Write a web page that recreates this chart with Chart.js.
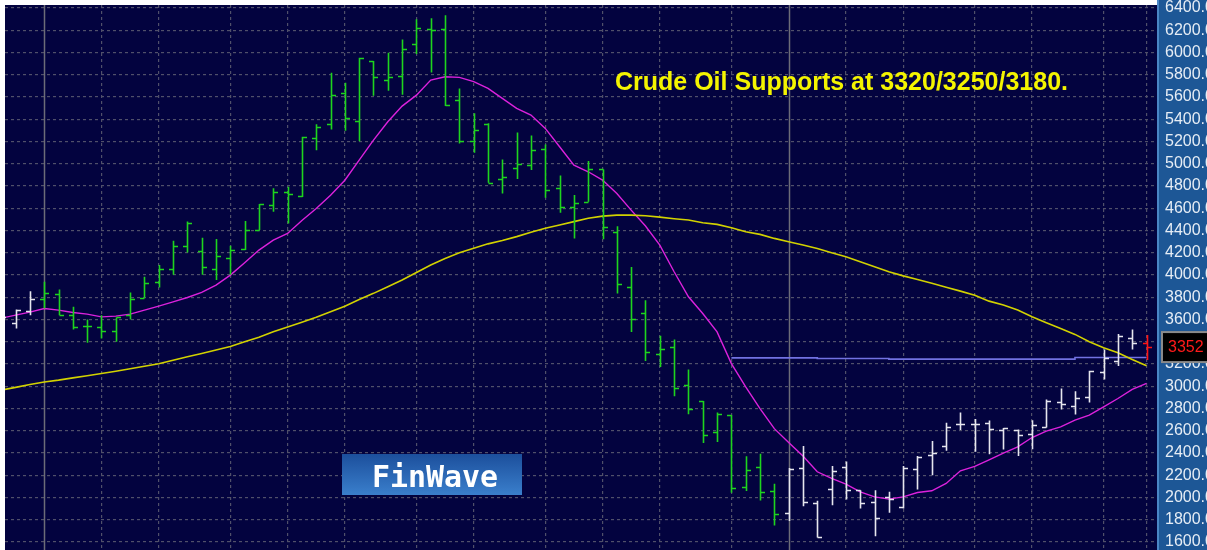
<!DOCTYPE html>
<html lang="en">
<head>
    <meta charset="UTF-8" />
    <title>Crude Oil Weekly</title>
    <script src="https://cdn.jsdelivr.net/npm/chart.js"></script>
    <style>
        html, body { margin: 0; padding: 0; background: #ffffff; }
        canvas { display: block; }
    </style>
</head>
<body>
    <canvas id="oilChart" width="1207" height="550"></canvas>

    <script>
        // weekly bars
        const opens = [
            3580, 3570, 3675, 3786, 3828, 3642, 3546, 3534, 3498, 3642,
            3795, 3936, 4050, 4263, 4215, 4053, 4155, 4233, 4404, 4629,
            4750, 4708, 5233, 5359, 5638, 5383, 5923, 5755, 5788, 6073,
            6211, 6211, 5572, 5205, 5354, 4862, 4961, 4985, 5135, 4778,
            4610, 4658, 4949, 4388, 3896, 3660, 3288, 3351, 3009, 2868,
            2589, 2739, 2094, 2274, 2058, 1863, 2262, 1952, 2078, 2276,
            2066, 1961, 2006, 1916, 2252, 2381, 2462, 2660, 2657, 2671,
            2611, 2611, 2575, 2635, 2860, 2821, 2905, 3130, 3229, 3430,
            3385
        ];
        const highs = [
            3700, 3690, 3855, 3939, 3870, 3714, 3600, 3639, 3618, 3843,
            3984, 4089, 4308, 4482, 4335, 4323, 4263, 4485, 4638, 4779,
            4793, 5242, 5356, 5818, 5728, 5953, 5923, 5998, 6118, 6298,
            6307, 6334, 5677, 5455, 5363, 5039, 5282, 5255, 5174, 4895,
            4718, 5024, 4949, 4439, 4073, 3774, 3453, 3420, 3150, 2868,
            2763, 2739, 2370, 2394, 2124, 2265, 2463, 1970, 2282, 2324,
            2066, 2066, 2051, 2282, 2372, 2507, 2672, 2765, 2705, 2693,
            2624, 2611, 2695, 2881, 2980, 2956, 3139, 3331, 3469, 3511,
            3460
        ];
        const lows = [
            3540, 3519, 3639, 3699, 3639, 3510, 3390, 3429, 3399, 3600,
            3795, 3888, 4002, 4203, 4002, 3954, 4002, 4224, 4404, 4569,
            4463, 4702, 5122, 5308, 5296, 5203, 5611, 5656, 5620, 5986,
            5821, 5518, 5182, 5098, 4829, 4733, 4862, 4943, 4694, 4559,
            4328, 4658, 4322, 3833, 3488, 3228, 3174, 2910, 2748, 2490,
            2499, 2043, 2058, 1974, 1749, 1788, 1921, 1640, 1931, 1982,
            1901, 1652, 1862, 1901, 2072, 2201, 2420, 2606, 2411, 2388,
            2431, 2374, 2434, 2629, 2791, 2746, 2854, 3061, 3181, 3331,
            3235
        ];
        const closes = [
            3624, 3684, 3786, 3840, 3639, 3534, 3546, 3498, 3618, 3783,
            3930, 4050, 4263, 4464, 4074, 4167, 4224, 4404, 4638, 4749,
            4727, 5242, 5332, 5614, 5407, 5947, 5779, 5779, 6034, 6223,
            6202, 5530, 5205, 5300, 4829, 4880, 4997, 5126, 4763, 4610,
            4649, 4949, 4427, 3920, 3608, 3312, 3336, 2985, 2796, 2565,
            2754, 2088, 2250, 2049, 1848, 2260, 1958, 1646, 2240, 2066,
            1952, 1820, 1985, 2261, 2366, 2396, 2636, 2660, 2657, 2615,
            2623, 2566, 2650, 2866, 2839, 2890, 3136, 3250, 3451, 3385,
            3352
        ];

        // moving averages (magenta = short, yellow = long)
        const maShort = [
            3612, 3639, 3666, 3699, 3684, 3663, 3648, 3624, 3630, 3648,
            3684, 3720, 3759, 3798, 3843, 3909, 3999, 4110, 4224, 4314,
            4373, 4490, 4597, 4717, 4852, 5032, 5212, 5377, 5518, 5617,
            5752, 5782, 5776, 5738, 5678, 5588, 5498, 5438, 5318, 5153,
            4988, 4928, 4853, 4733, 4583, 4440, 4269, 4029, 3804, 3654,
            3489, 3204, 2994, 2799, 2619, 2495, 2372, 2231, 2171, 2120,
            2051, 2006, 1985, 2006, 2045, 2060, 2126, 2240, 2280, 2339,
            2398, 2455, 2539, 2596, 2635, 2695, 2740, 2815, 2890, 2971,
            3025
        ];
        const maLong = [
            2965, 2990, 3015, 3038, 3055, 3075, 3095, 3114, 3135, 3158,
            3180, 3202, 3234, 3265, 3295, 3325, 3357, 3400, 3440, 3490,
            3533, 3575, 3620, 3670, 3720, 3780, 3835, 3895, 3955, 4023,
            4090, 4149, 4199, 4240, 4280, 4310, 4345, 4385, 4420, 4450,
            4480, 4510, 4529, 4538, 4538, 4532, 4520, 4506, 4494, 4470,
            4455, 4425, 4389, 4365, 4329, 4299, 4269, 4238, 4200, 4165,
            4120, 4075, 4030, 3992, 3960, 3925, 3890, 3855, 3818, 3765,
            3730, 3685, 3625, 3571, 3520, 3466, 3400, 3346, 3301, 3241,
            3184
        ];

        // support line from bar 51 to the last bar
        const supportBars = [51, 56, 57, 61, 62, 74, 75, 80];
        const supportLevels = [3255, 3255, 3250, 3250, 3244, 3244, 3258, 3258];

        const monthStarts = [3, 7, 11, 16, 20, 24, 29, 33, 38, 42, 46, 51, 55, 59, 63, 68, 72, 77, 80];
        const yearStarts = [3, 55];
        const yTicks = [1600, 1800, 2000, 2200, 2400, 2600, 2800, 3000, 3200, 3400, 3600, 3800, 4000,
                        4200, 4400, 4600, 4800, 5000, 5200, 5400, 5600, 5800, 6000, 6200, 6400];

        const lastPrice = 3352;
        const headline = 'Crude Oil Supports at 3320/3250/3180.';

        const toPoints = (vals, start) => vals.map((v, i) => ({ x: (start || 0) + i, y: v }));

        function barColor(i) {
            if (i === closes.length - 1) return '#ff1414';
            if (i >= 3 && i <= 54) return '#1ed41e';
            return '#e6e6ee';
        }

        // no extra room for edge labels, the plot runs to the canvas edges
        function noPadding(s) {
            s.paddingTop = 0;
            s.paddingBottom = 0;
            s.paddingLeft = 0;
            s.paddingRight = 0;
        }

        const chartDecor = {
            id: 'chartDecor',
            beforeDraw(chart) {
                const { ctx, chartArea: a, width, height } = chart;
                ctx.save();
                ctx.fillStyle = '#ffffff';
                ctx.fillRect(0, 0, width, height);
                ctx.fillStyle = '#03033f';
                ctx.fillRect(a.left, a.top, a.right - a.left, a.bottom - a.top);
                // price axis panel
                ctx.fillStyle = '#1d5796';
                ctx.fillRect(a.right, 0, width - a.right, height);
                ctx.fillStyle = '#4a86c6';
                ctx.fillRect(a.right, 0, 2, height);
                ctx.restore();
            },
            beforeDatasetsDraw(chart) {
                const { ctx, chartArea: a, scales: { x } } = chart;
                ctx.save();
                ctx.strokeStyle = '#6c6c78';
                ctx.lineWidth = 1.5;
                yearStarts.forEach(v => {
                    const px = Math.round(x.getPixelForValue(v)) + 0.5;
                    ctx.beginPath();
                    ctx.moveTo(px, a.top);
                    ctx.lineTo(px, a.bottom);
                    ctx.stroke();
                });
                ctx.restore();
            },
            afterDatasetsDraw(chart) {
                const { ctx, chartArea: a, scales: { x, y } } = chart;
                ctx.save();
                ctx.beginPath();
                ctx.rect(a.left, a.top, a.right - a.left, a.bottom - a.top);
                ctx.clip();
                ctx.lineWidth = 1.6;
                for (let i = 0; i < closes.length; i++) {
                    const px = Math.round(x.getPixelForValue(i)) + 0.5;
                    ctx.strokeStyle = barColor(i);
                    ctx.beginPath();
                    ctx.moveTo(px, y.getPixelForValue(highs[i]));
                    ctx.lineTo(px, y.getPixelForValue(lows[i]));
                    const yo = Math.round(y.getPixelForValue(opens[i])) + 0.5;
                    const yc = Math.round(y.getPixelForValue(closes[i])) + 0.5;
                    ctx.moveTo(px - 4.5, yo);
                    ctx.lineTo(px, yo);
                    ctx.moveTo(px, yc);
                    ctx.lineTo(px + 4.5, yc);
                    ctx.stroke();
                }
                ctx.restore();
            },
            afterDraw(chart) {
                const { ctx, chartArea: a, scales: { y }, width } = chart;
                ctx.save();

                // headline
                ctx.font = 'bold 25px "Liberation Sans", Arial, sans-serif';
                ctx.fillStyle = '#f4f400';
                ctx.textBaseline = 'alphabetic';
                ctx.fillText(headline, 615, 90);

                // logo
                const g = ctx.createLinearGradient(0, 454, 0, 495);
                g.addColorStop(0, '#1c4f9c');
                g.addColorStop(1, '#3a7fcc');
                ctx.fillStyle = g;
                ctx.fillRect(342, 454, 180, 41);
                ctx.fillStyle = '#ffffff';
                ctx.font = 'bold 30px "DejaVu Sans Mono", monospace';
                ctx.textBaseline = 'alphabetic';
                ctx.fillText('FinWave', 372, 487, 126);

                // last price box
                const py = y.getPixelForValue(lastPrice);
                ctx.fillStyle = '#000000';
                ctx.fillRect(a.right + 5, py - 15, width - a.right - 4, 30);
                ctx.strokeStyle = '#8a8a8a';
                ctx.lineWidth = 2;
                ctx.strokeRect(a.right + 5, py - 15, width - a.right - 4, 30);
                ctx.fillStyle = '#ff1a1a';
                ctx.font = '16px "Liberation Sans", Arial, sans-serif';
                ctx.textBaseline = 'middle';
                ctx.fillText(String(lastPrice), a.right + 11, py + 1);
                ctx.restore();
            }
        };

        const gridGray = '#50506a';

        new Chart(document.getElementById('oilChart'), {
            type: 'line',
            data: {
                datasets: [
                    {
                        label: 'MA long',
                        data: toPoints(maLong),
                        borderColor: '#d2d200',
                        borderWidth: 1.6,
                        pointRadius: 0,
                        tension: 0
                    },
                    {
                        label: 'MA short',
                        data: toPoints(maShort),
                        borderColor: '#dc22dc',
                        borderWidth: 1.4,
                        pointRadius: 0,
                        tension: 0
                    },
                    {
                        label: 'Support',
                        data: supportBars.map((b, i) => ({ x: b, y: supportLevels[i] })),
                        borderColor: '#7272e2',
                        borderWidth: 1.6,
                        pointRadius: 0,
                        stepped: 'before'
                    }
                ]
            },
            options: {
                responsive: false,
                animation: false,
                layout: { padding: { left: 5, top: 5, right: 0, bottom: 0 } },
                plugins: {
                    legend: { display: false },
                    tooltip: { enabled: false },
                    title: { display: false }
                },
                scales: {
                    x: {
                        type: 'linear',
                        min: 0.26,
                        max: 80.73,
                        afterBuildTicks: s => { s.ticks = monthStarts.map(v => ({ value: v })); },
                        afterFit: s => { s.height = 0; noPadding(s); },
                        ticks: { display: false },
                        grid: {
                            drawTicks: false,
                            color: c => (c.tick && yearStarts.includes(c.tick.value)) ? 'rgba(0,0,0,0)' : gridGray,
                            lineWidth: 1.2
                        },
                        border: { display: false, dash: [3, 3] }
                    },
                    y: {
                        type: 'linear',
                        position: 'right',
                        min: 1528,
                        max: 6427,
                        afterBuildTicks: s => { s.ticks = yTicks.map(v => ({ value: v })); },
                        afterFit: s => { s.width = 50; noPadding(s); },
                        ticks: {
                            autoSkip: false,
                            padding: 8,
                            color: '#e6edf5',
                            font: { family: '"Liberation Sans", Arial, sans-serif', size: 16 },
                            callback: v => v.toFixed(2)
                        },
                        grid: {
                            drawTicks: false,
                            color: gridGray,
                            lineWidth: 1.2
                        },
                        border: { display: false, dash: [3, 3] }
                    }
                }
            },
            plugins: [chartDecor]
        });
    </script>
</body>
</html>
